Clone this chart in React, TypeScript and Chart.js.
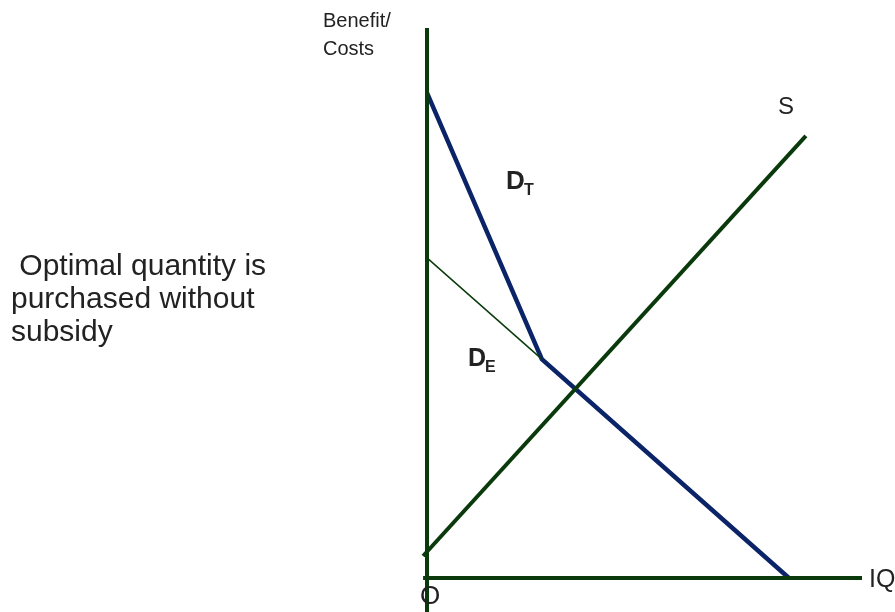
import React, { useEffect, useRef } from "react";
import { Chart, registerables } from "chart.js";

Chart.register(...registerables);

// Quantity (x) and Benefit/Cost (y) values, axis scale 0..10
const demandTotalX = [0, 2.64, 8.32];
const demandTotalY = [8.82, 3.98, 0];
const demandExtX = [0, 2.64];
const demandExtY = [5.82, 3.98];
const supplyX = [-0.09, 8.71];
const supplyY = [0.4, 8.04];
const yAxisX = [0, 0];
const yAxisY = [-0.62, 10];
const xAxisX = [-0.09, 10];
const xAxisY = [0, 0];

const sideNote = [" Optimal quantity is", "purchased without", "subsidy"];

const GREEN = "#0a3a0c";
const NAVY = "#0b2468";

const pts = (xs: number[], ys: number[]) => xs.map((x, i) => ({ x, y: ys[i] }));

const textPlugin = {
  id: "econText",
  afterDraw(chart: any) {
    const ctx = chart.ctx as CanvasRenderingContext2D;
    const xs = chart.scales.x;
    const ys = chart.scales.y;
    const px = (v: number) => xs.getPixelForValue(v);
    const py = (v: number) => ys.getPixelForValue(v);
    ctx.save();
    ctx.fillStyle = "#222222";
    ctx.textBaseline = "alphabetic";
    ctx.textAlign = "left";
    const sans = "'Liberation Sans', Arial, sans-serif";

    // axis titles
    ctx.font = `20px ${sans}`;
    ctx.fillText("Benefit/", px(0) - 104, py(10) - 1);
    ctx.fillText("Costs", px(0) - 104, py(10) + 27);

    ctx.font = `25px ${sans}`;
    ctx.fillText("IQ", px(10) + 7, py(0) + 9);
    ctx.font = `24px ${sans}`;
    ctx.fillText("S", px(8.71) - 28, py(8.04) - 22);

    ctx.font = `26px ${sans}`;
    ctx.textAlign = "center";
    ctx.fillText("O", px(0) + 3, py(0) + 26);
    ctx.textAlign = "left";

    // demand labels
    ctx.font = `bold 26px ${sans}`;
    ctx.fillText("D", 506, 189);
    ctx.font = `bold 16px ${sans}`;
    ctx.fillText("T", 524, 195);

    ctx.font = `bold 25px ${sans}`;
    ctx.fillText("D", 468, 366);
    ctx.font = `bold 16px ${sans}`;
    ctx.fillText("E", 485, 372);

    // side note
    ctx.font = `30px ${sans}`;
    ctx.fillText(sideNote[0], 11, 275);
    ctx.fillText(sideNote[1], 11, 308);
    ctx.fillText(sideNote[2], 11, 341);
    ctx.restore();
  },
};

export default function App() {
  const ref = useRef<HTMLCanvasElement | null>(null);
  useEffect(() => {
    if (!ref.current) return;
    const base = {
      showLine: true,
      pointRadius: 0,
      pointHoverRadius: 0,
      fill: false,
      clip: false as any,
      tension: 0,
    };
    const chart = new Chart(ref.current, {
      type: "scatter",
      data: {
        datasets: [
          { ...base, label: "y-axis", data: pts(yAxisX, yAxisY), borderColor: GREEN, borderWidth: 4 },
          { ...base, label: "x-axis", data: pts(xAxisX, xAxisY), borderColor: GREEN, borderWidth: 4 },
          { ...base, label: "S", data: pts(supplyX, supplyY), borderColor: GREEN, borderWidth: 4 },
          { ...base, label: "DE", data: pts(demandExtX, demandExtY), borderColor: GREEN, borderWidth: 1.5 },
          { ...base, label: "DT", data: pts(demandTotalX, demandTotalY), borderColor: NAVY, borderWidth: 4.5, borderJoinStyle: "miter" },
        ] as any,
      },
      options: {
        responsive: false,
        animation: false,
        events: [],
        layout: { padding: { left: 427, right: 33, top: 28, bottom: 34 } },
        plugins: { legend: { display: false }, tooltip: { enabled: false } },
        scales: {
          x: { type: "linear", min: 0, max: 10, display: false },
          y: { type: "linear", min: 0, max: 10, display: false },
        },
      },
      plugins: [textPlugin],
    });
    return () => chart.destroy();
  }, []);
  return (
    <div style={{ position: "absolute", left: 0, top: 0, width: 895, height: 612, background: "#fff" }}>
      <canvas ref={ref} width={895} height={612} style={{ display: "block" }} />
    </div>
  );
}
